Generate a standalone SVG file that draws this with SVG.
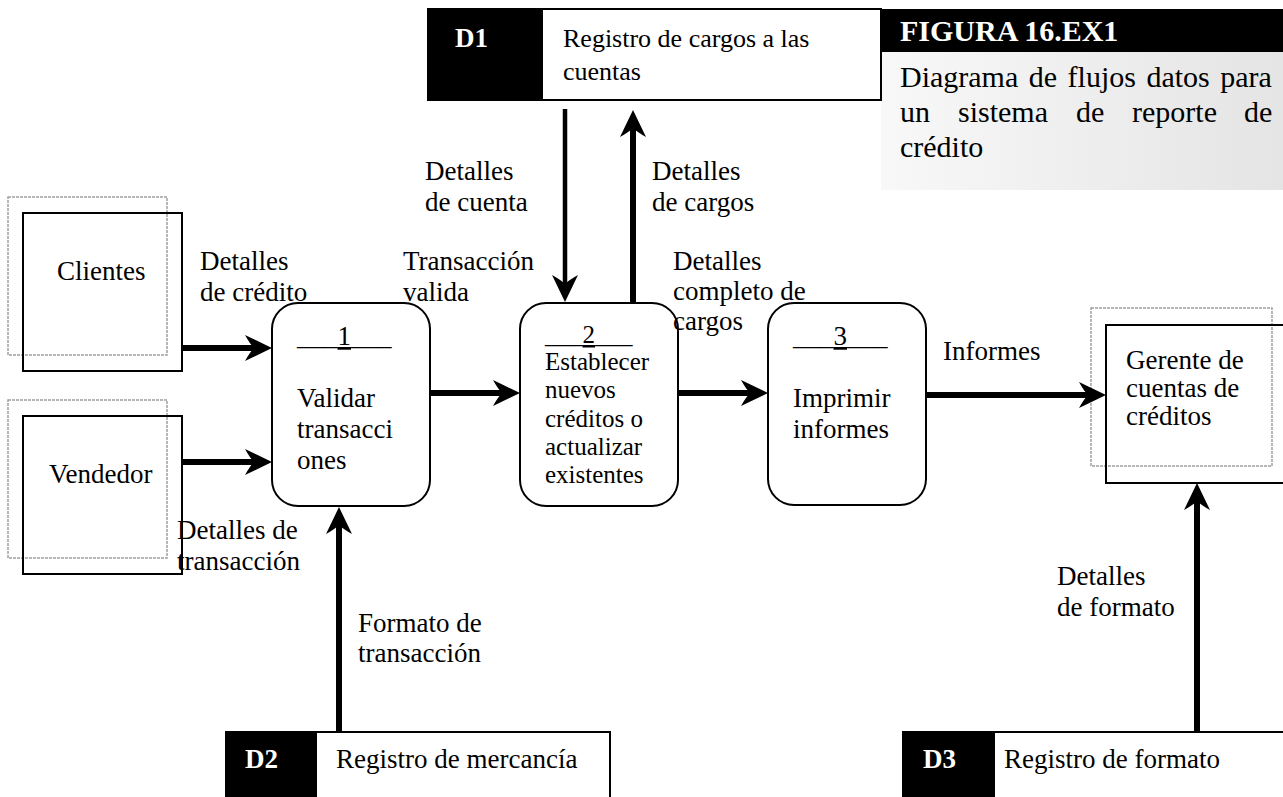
<svg xmlns="http://www.w3.org/2000/svg" width="1283" height="797" viewBox="0 0 1283 797">
  <style>
    text { font-family: "Liberation Serif", "Times New Roman", serif; font-size: 27px; fill: #000; }
    .small { font-size: 25px; }
    .d1 { font-size: 26px; }
    .store-id { font-weight: bold; fill: #fff; }
    .cap-title { font-weight: bold; fill: #fff; font-size: 30px; }
    .cap { font-size: 30px; }
    .ext { fill: none; stroke: #000; stroke-width: 2; }
    .shadow { fill: none; stroke: #a0a0a0; stroke-width: 1.5; stroke-dasharray: 3 1; }
    .proc { fill: #fff; stroke: #000; stroke-width: 2; }
    .store { fill: #fff; stroke: #000; stroke-width: 2; }
    .flow { fill: none; stroke: #000; stroke-width: 6; marker-end: url(#head); }
    .flow-thin { fill: none; stroke: #000; stroke-width: 4.5; marker-end: url(#head); }
  </style>
  <defs>
    <marker id="head" viewBox="0 0 27 26" markerUnits="userSpaceOnUse" markerWidth="27" markerHeight="26" refX="9" refY="13" orient="auto" overflow="visible">
      <path d="M0,0 L27,13 L0,26 Q5,17 9,13 Q5,9 0,0 Z" fill="#000"/>
    </marker>
    <linearGradient id="capfill" x1="0" y1="0" x2="1" y2="0">
      <stop offset="0" stop-color="#f8f8f8"/>
      <stop offset="1" stop-color="#e4e4e4"/>
    </linearGradient>
  </defs>

  <rect width="1283" height="797" fill="#fff"/>

  <!-- Figure caption -->
  <g id="caption">
    <rect x="881" y="9" width="410" height="43" fill="#000"/>
    <rect x="881" y="52" width="410" height="138" fill="url(#capfill)"/>
    <text class="cap-title" x="900" y="41">FIGURA 16.EX1</text>
    <text class="cap" x="900" y="87" word-spacing="3">Diagrama de flujos datos para</text>
    <text class="cap" y="122"><tspan x="900">un</tspan><tspan x="958">sistema</tspan><tspan x="1076">de</tspan><tspan x="1132">reporte</tspan><tspan x="1244">de</tspan></text>
    <text class="cap" x="900" y="157">crédito</text>
  </g>

  <!-- Data store D1 -->
  <g id="D1">
    <rect class="store" x="428" y="9" width="453" height="91"/>
    <rect x="428" y="9" width="115" height="91" fill="#000"/>
    <text class="store-id" x="455" y="47">D1</text>
    <text class="d1" x="563" y="47">Registro de cargos a las</text>
    <text class="d1" x="563" y="80">cuentas</text>
  </g>

  <!-- Data store D2 -->
  <g id="D2">
    <rect class="store" x="226" y="732" width="384" height="80"/>
    <rect x="226" y="732" width="91" height="80" fill="#000"/>
    <text class="store-id" x="245" y="768">D2</text>
    <text x="336" y="768">Registro de mercancía</text>
  </g>

  <!-- Data store D3 -->
  <g id="D3">
    <rect class="store" x="903" y="732" width="400" height="80"/>
    <rect x="903" y="732" width="92" height="80" fill="#000"/>
    <text class="store-id" x="923" y="768">D3</text>
    <text x="1004" y="768">Registro de formato</text>
  </g>

  <!-- External entities -->
  <g id="clientes">
    <rect class="shadow" x="8" y="197" width="159" height="158"/>
    <rect class="ext" x="23" y="213" width="159" height="158"/>
    <text x="57" y="280">Clientes</text>
  </g>
  <g id="vendedor">
    <rect class="shadow" x="8" y="400" width="159" height="158"/>
    <rect class="ext" x="23" y="416" width="159" height="158"/>
    <text x="49" y="483">Vendedor</text>
  </g>
  <g id="gerente">
    <rect class="shadow" x="1091" y="308" width="181" height="158"/>
    <rect class="ext" x="1106" y="325" width="190" height="158"/>
    <text x="1126" y="369">Gerente de</text>
    <text x="1126" y="397">cuentas de</text>
    <text x="1126" y="425">créditos</text>
  </g>

  <!-- Processes -->
  <g id="p1">
    <rect class="proc" x="272" y="303" width="158" height="203" rx="26" ry="26"/>
    <text x="297" y="345">___<tspan text-decoration="underline">1</tspan>___</text>
    <text x="297" y="407">Validar</text>
    <text x="297" y="438">transacci</text>
    <text x="297" y="469">ones</text>
  </g>
  <g id="p2">
    <rect class="proc" x="520" y="303" width="158" height="203" rx="26" ry="26"/>
    <text class="small" x="545" y="343">___<tspan text-decoration="underline">2</tspan>___</text>
    <text class="small" x="545" y="370">Establecer</text>
    <text class="small" x="545" y="398">nuevos</text>
    <text class="small" x="545" y="427">créditos o</text>
    <text class="small" x="545" y="455">actualizar</text>
    <text class="small" x="545" y="483">existentes</text>
  </g>
  <g id="p3">
    <rect class="proc" x="768" y="303" width="158" height="202" rx="26" ry="26"/>
    <text x="793" y="345">___<tspan text-decoration="underline">3</tspan>___</text>
    <text x="793" y="407">Imprimir</text>
    <text x="793" y="438">informes</text>
  </g>

  <!-- Data flows -->
  <g id="connectors">
    <line class="flow" x1="182" y1="348" x2="254" y2="348"/>
    <line class="flow" x1="182" y1="462" x2="254" y2="462"/>
    <line class="flow" x1="430" y1="393" x2="502" y2="393"/>
    <line class="flow" x1="678" y1="393" x2="750" y2="393"/>
    <line class="flow" x1="926" y1="395" x2="1088" y2="395"/>
    <line class="flow-thin" x1="565" y1="109" x2="565" y2="284"/>
    <line class="flow" x1="633" y1="303" x2="633" y2="128"/>
    <line class="flow" x1="339" y1="732" x2="339" y2="525"/>
    <line class="flow" x1="1197" y1="732" x2="1197" y2="501"/>
  </g>

  <!-- Flow labels -->
  <g id="flow-labels">
    <text x="200" y="270">Detalles</text>
    <text x="200" y="301">de crédito</text>
    <text x="177" y="539">Detalles de</text>
    <text x="177" y="570">transacción</text>
    <text x="425" y="180">Detalles</text>
    <text x="425" y="211">de cuenta</text>
    <text x="652" y="180">Detalles</text>
    <text x="652" y="211">de cargos</text>
    <text x="403" y="270">Transacción</text>
    <text x="403" y="301">valida</text>
    <text x="673" y="270">Detalles</text>
    <text x="673" y="300">completo de</text>
    <text x="673" y="330">cargos</text>
    <text x="943" y="360">Informes</text>
    <text x="358" y="632">Formato de</text>
    <text x="358" y="662">transacción</text>
    <text x="1057" y="585">Detalles</text>
    <text x="1057" y="616">de formato</text>
  </g>
</svg>
